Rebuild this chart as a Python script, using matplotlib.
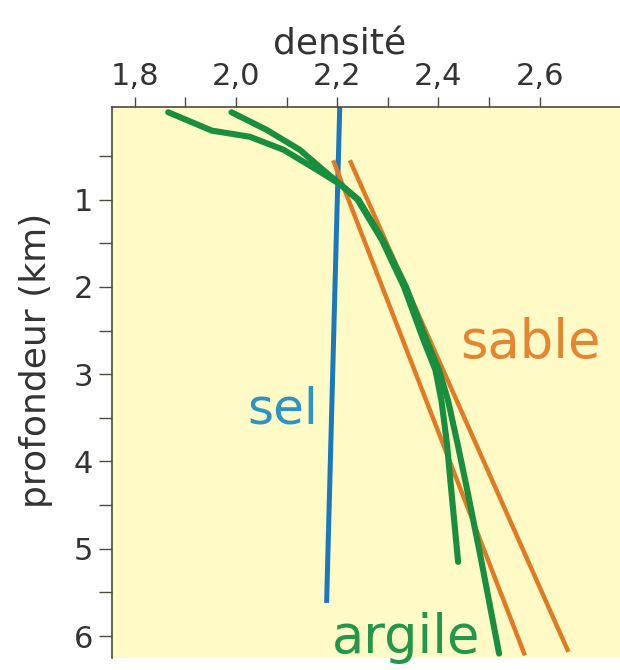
import numpy as np
import matplotlib
matplotlib.use("Agg")
import matplotlib.pyplot as plt

plt.rcParams['font.family'] = ['DejaVu Sans']

# densité (x) vs profondeur in km (y)
sel_d = [2.205, 2.179]
sel_z = [-0.06, 5.62]

sable1_d = [2.192, 2.571]
sable1_z = [0.55, 6.22]
sable2_d = [2.225, 2.657]
sable2_z = [0.55, 6.18]

argile1_d = [1.866, 1.952, 2.027, 2.094, 2.160, 2.207, 2.240, 2.288, 2.332, 2.370,
             2.394, 2.406, 2.417, 2.425, 2.439]
argile1_z = [0.0, 0.21, 0.28, 0.43, 0.66, 0.83, 1.0, 1.46, 2.0, 2.6,
             2.95, 3.3, 3.8, 4.3, 5.15]
argile2_d = [1.991, 2.060, 2.126, 2.172, 2.207, 2.242, 2.290, 2.336, 2.376, 2.401,
             2.419, 2.438, 2.456, 2.482, 2.520]
argile2_z = [0.0, 0.2, 0.43, 0.66, 0.83, 1.0, 1.46, 2.0, 2.6, 2.95,
             3.3, 3.8, 4.3, 5.05, 6.2]

xticks = [1.8, 2.0, 2.2, 2.4, 2.6]
xminor = [1.9, 2.1, 2.3, 2.5]
yticks = [1, 2, 3, 4, 5, 6]
yminor = [0.5, 1.5, 2.5, 3.5, 4.5, 5.5]

green = '#178f3e'
orange = '#e17a22'
blue = '#1a78bd'
axis_col = '#4d4a3a'
txt_col = '#333333'

fig = plt.figure(figsize=(6.2, 6.7), dpi=100)
ax = fig.add_axes([0.180, 0.018, 0.820, 0.822])
ax.set_facecolor('#fffac6')

ax.plot(sel_d, sel_z, color=blue, lw=3.6, solid_capstyle='butt')
ax.plot(sable1_d, sable1_z, color=orange, lw=3.2, solid_capstyle='butt')
ax.plot(sable2_d, sable2_z, color=orange, lw=3.2, solid_capstyle='butt')
ax.plot(argile1_d, argile1_z, color=green, lw=4.4, solid_capstyle='round',
        solid_joinstyle='round')
ax.plot(argile2_d, argile2_z, color=green, lw=4.4, solid_capstyle='round',
        solid_joinstyle='round')

ax.set_xlim(1.754, 2.759)
ax.set_ylim(6.25, -0.058)

ax.xaxis.tick_top()
ax.xaxis.set_label_position('top')
ax.set_xticks(xticks)
ax.set_xticklabels([f"{v:.1f}".replace('.', ',') for v in xticks])
ax.set_xticks(xminor, minor=True)
ax.set_yticks(yticks)
ax.set_yticklabels([str(v) for v in yticks])
ax.set_yticks(yminor, minor=True)

for s in ['right', 'bottom']:
    ax.spines[s].set_visible(False)
for s in ['top', 'left']:
    ax.spines[s].set_color(axis_col)
    ax.spines[s].set_linewidth(1.2)

ax.tick_params(axis='x', which='both', direction='out', length=7, width=1.0,
               color=axis_col, labelsize=22, labelcolor=txt_col, pad=5)
ax.tick_params(axis='y', which='both', direction='out', length=9.5, width=1.0,
               color=axis_col, labelsize=22, labelcolor=txt_col, pad=4)

ax.set_xlabel('densité', fontsize=26, color=txt_col)
ax.xaxis.set_label_coords(0.449, 1.095)
ax.set_ylabel('profondeur (km)', fontsize=26, color=txt_col)
ax.yaxis.set_label_coords(-0.115, 0.541)

ax.text(2.443, 2.81, 'sable', color='#e4852f', fontsize=38,
        ha='left', va='baseline')
ax.text(2.022, 3.56, 'sel', color='#2b93c6', fontsize=36,
        ha='left', va='baseline')
ax.text(2.19, 6.19, 'argile', color='#22974a', fontsize=38,
        ha='left', va='baseline', clip_on=False)

fig.savefig('out.png', dpi=100)
